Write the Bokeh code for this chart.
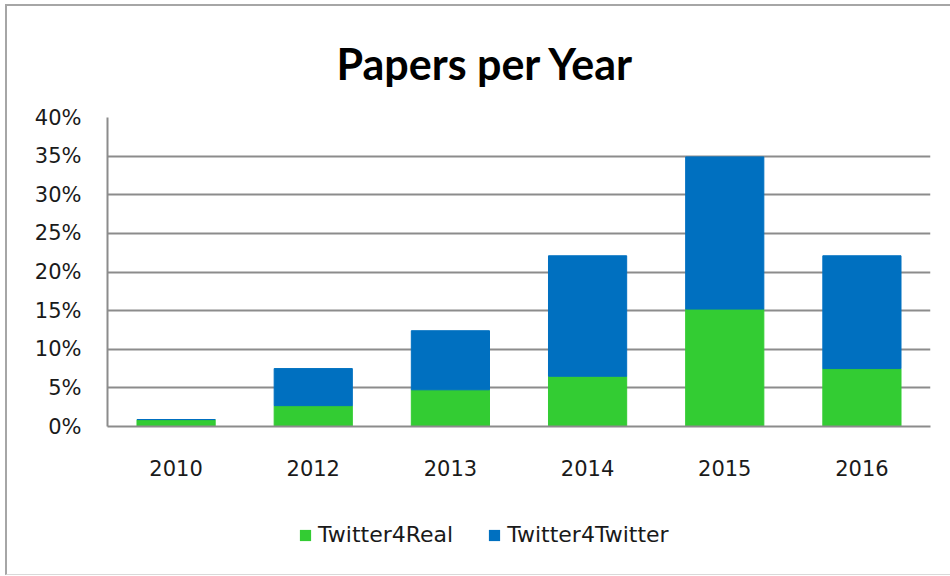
from bokeh.plotting import figure
from bokeh.layouts import column
from bokeh.models import ColumnDataSource, FixedTicker, PrintfTickFormatter, Title, Range1d, FactorRange
from bokeh.embed import file_html
from bokeh.resources import INLINE

years = ["2010", "2012", "2013", "2014", "2015", "2016"]
twitter4real = [0.9, 2.7, 4.75, 6.5, 15.2, 7.5]
twitter4twitter = [0.0, 4.8, 7.65, 15.6, 19.7, 14.6]
series = ["Twitter4Real", "Twitter4Twitter"]
colors = ["#33CC33", "#0070C0"]
y_ticks = [0, 5, 10, 15, 20, 25, 30, 35, 40]

source = ColumnDataSource(dict(year=years, Twitter4Real=twitter4real, Twitter4Twitter=twitter4twitter))

FONT = "DejaVu Sans"
GRID = "#8c8c8c"

# main chart (page origin of the layout is (7, 6) because of CSS margin + border)
p = figure(width=943, height=500, x_range=FactorRange(*years, range_padding=0),
           y_range=Range1d(0, 40), output_backend="svg", toolbar_location=None,
           min_border_left=100, min_border_right=20, min_border_top=111, min_border_bottom=80)

p.vbar_stack(series, x="year", width=0.57, color=colors, source=source)

p.outline_line_color = None
p.xgrid.grid_line_color = None
p.ygrid.grid_line_color = GRID
p.ygrid.grid_line_width = 2
p.yaxis.ticker = FixedTicker(ticks=y_ticks)
p.yaxis.formatter = PrintfTickFormatter(format="%d%%")
for ax in (p.xaxis[0], p.yaxis[0]):
    ax.axis_line_color = GRID
    ax.axis_line_width = 2
    ax.major_tick_line_color = None
    ax.minor_tick_line_color = None
    ax.major_label_text_font = FONT
    ax.major_label_text_font_size = "21px"
    ax.major_label_text_color = "#1a1a1a"
p.yaxis.major_label_standoff = 20
p.xaxis.major_label_standoff = 27

p.add_layout(Title(text="Papers per Year", text_font="Lato", text_font_style="bold",
                   text_font_size="43px", text_color="black", align="left",
                   offset=229, standoff=57), "above")

# legend strip below the chart: same series, bars kept far outside the visible y range
lp = figure(width=943, height=68, x_range=FactorRange(*years, range_padding=0),
            y_range=Range1d(1000, 1001), output_backend="svg", toolbar_location=None,
            x_axis_location=None, y_axis_location=None,
            min_border_left=100, min_border_right=20, min_border_top=0, min_border_bottom=0)
lp.outline_line_color = None
lp.grid.visible = False
lp.vbar_stack(series, x="year", width=0.57, fill_color=colors, line_color=None,
              source=source, legend_label=series)

lg = lp.legend[0]
lg.orientation = "horizontal"
lg.location = (191, 27)
lg.border_line_color = None
lg.background_fill_alpha = 0
lg.padding = 0
lg.margin = 0
lg.spacing = 34
lg.glyph_width = 14
lg.glyph_height = 14
lg.label_standoff = 6
lg.label_text_font = FONT
lg.label_text_font_size = "22px"
lg.label_text_color = "#1a1a1a"

layout = column(p, lp, spacing=0,
                styles={"margin-left": "5px", "margin-top": "4px",
                        "border-left": "2px solid #a6a6a6", "border-top": "2px solid #a6a6a6",
                        "border-bottom": "1px solid #d9d9d9"})

open("out.html", "w").write(file_html(layout, INLINE))
